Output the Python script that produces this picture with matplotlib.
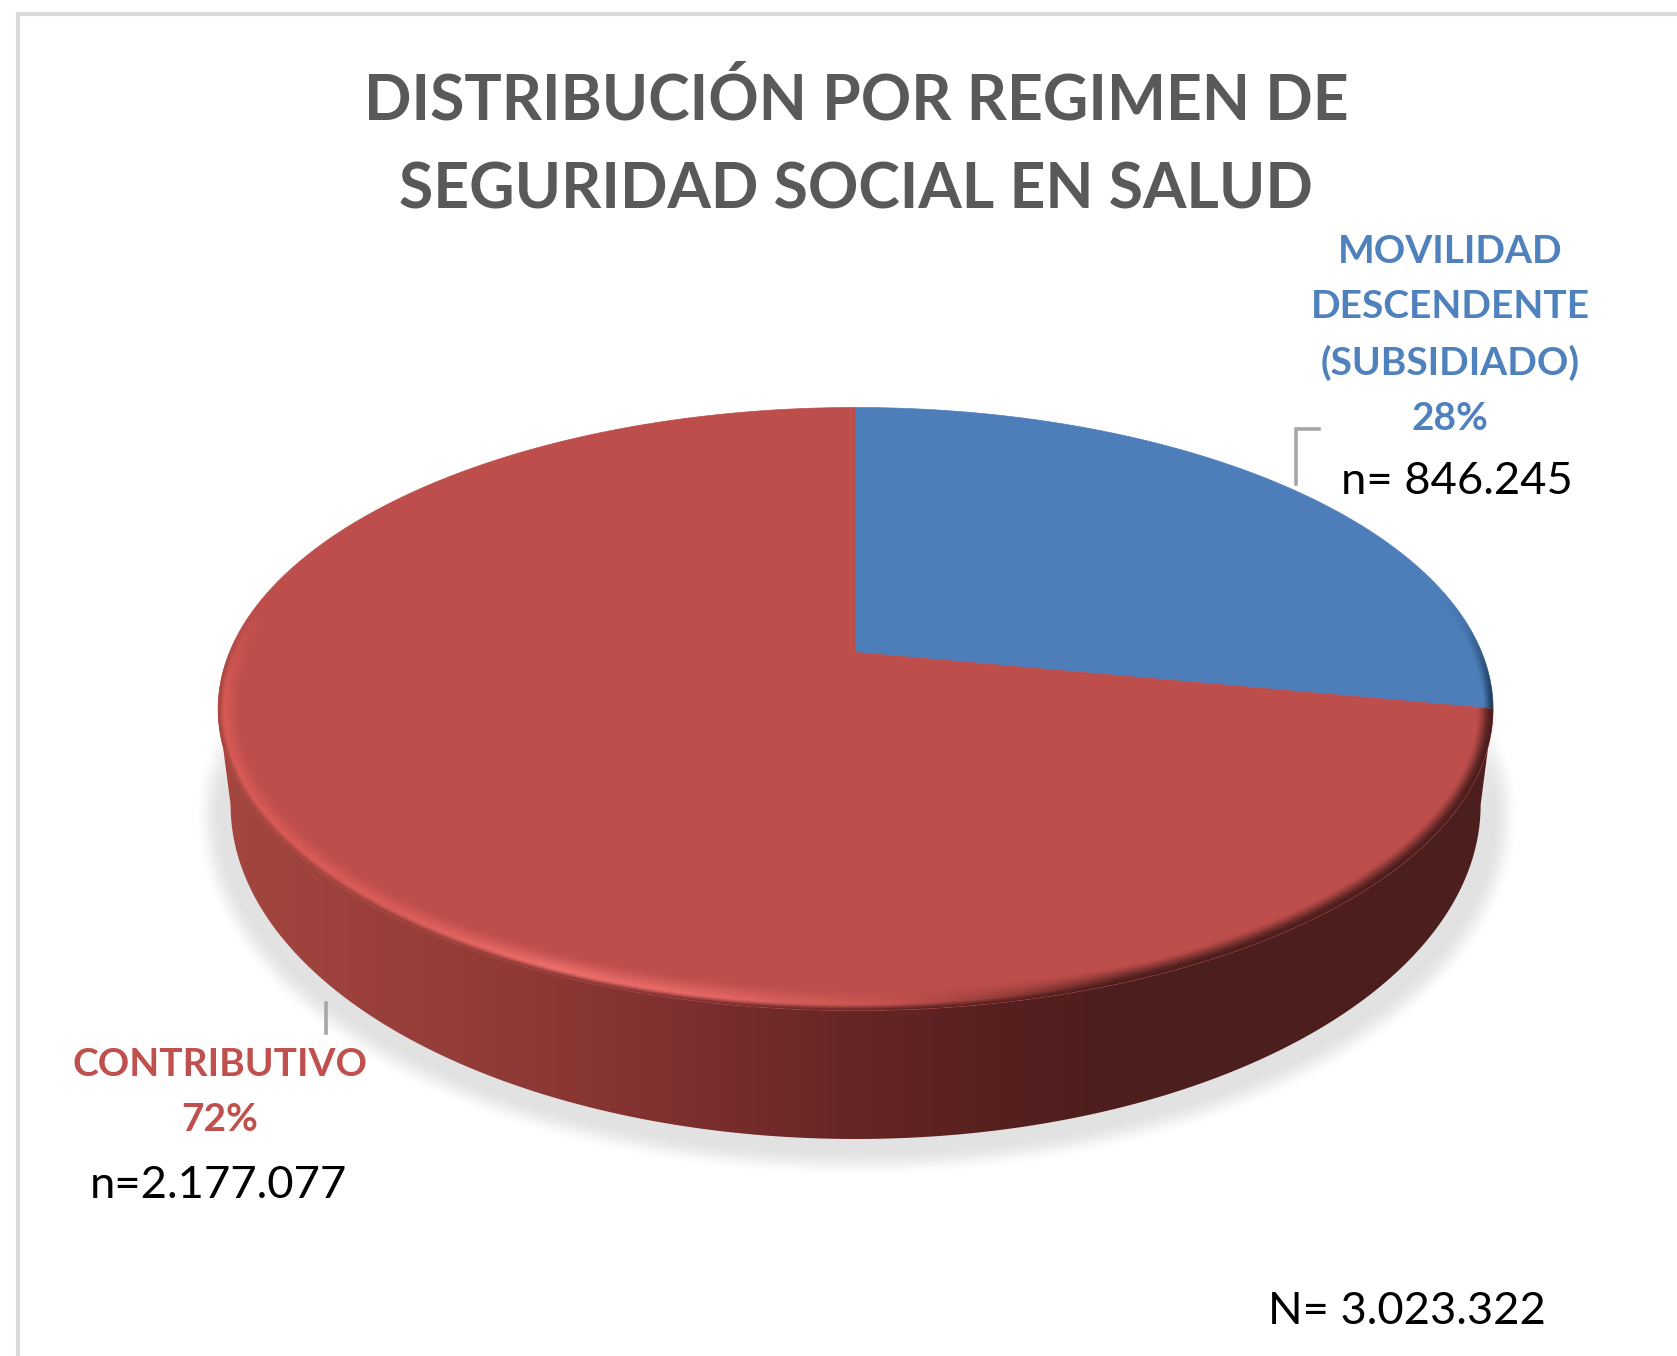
import numpy as np
import matplotlib
matplotlib.use("Agg")
import matplotlib.pyplot as plt
from matplotlib.colors import to_rgb
from matplotlib.patches import Polygon

plt.rcParams['font.family'] = ['Lato', 'DejaVu Sans']

# data
labels = ['MOVILIDAD\nDESCENDENTE\n(SUBSIDIADO)\n28%', 'CONTRIBUTIVO\n72%']
values = [846245, 2177077]
counts = ['n= 846.245', 'n=2.177.077']
total_label = 'N= 3.023.322'
title = 'DISTRIBUCIÓN POR REGIMEN DE\nSEGURIDAD SOCIAL EN SALUD'

BLUE = '#4d7eba'
RED = '#bd4e4b'

fig = plt.figure(figsize=(16.77, 13.56), dpi=100)
ax = fig.add_axes([0, 0, 1, 1])

# pie geometry (pixels of the picture)
cx, cy, a, b = 855.6, 709.0, 637.5, 301.5
apex_y = 652.4
up, down = apex_y - (cy - b), (cy + b) - apex_y
k = (down - up) / (down + up)
h = up * (1 + k)
w = a * np.sqrt(1 - k ** 2)
low_cy, low_a, low_b = 805.0, 625.0, 334.0


def project(theta):
    # circle seen in perspective, theta clockwise from the top
    X, Y = np.sin(theta), np.cos(theta)
    return cx + w * X / (1 + k * Y), apex_y - h * Y / (1 + k * Y)


def wedge(start, end):
    t = np.linspace(start, end, 400)
    x, y = project(t)
    return np.column_stack([np.r_[cx, x], np.r_[apex_y, y]])


def smooth(v, lo, hi):
    t = np.clip((v - lo) / (hi - lo), 0, 1)
    return t * t * (3 - 2 * t)


def interp_colors(x, xs, cols):
    rgb = np.array([to_rgb(c) for c in cols])
    return np.dstack([np.interp(x, xs, rgb[:, i]) for i in range(3)])


def edge_dist(px, py, ex, ey, ea, eb):
    # rough distance in pixels to an ellipse, positive inside
    rr = np.sqrt(((px - ex) / ea) ** 2 + ((py - ey) / eb) ** 2)
    gg = np.sqrt(((px - ex) / ea ** 2) ** 2 + ((py - ey) / eb ** 2) ** 2) / np.maximum(rr, 1e-3)
    return (1 - rr) / np.maximum(gg, 1e-6)


def show(img, x0, x1, y0, y1, clip=None, zorder=1):
    im = ax.imshow(img, extent=[x0, x1, y1, y0], aspect='auto', zorder=zorder,
                   interpolation='bilinear')
    if clip is not None:
        patch = Polygon(clip, closed=True, transform=ax.transData, fc='none', ec='none')
        ax.add_patch(patch)
        im.set_clip_path(patch)
    return im


xx, yy = np.meshgrid(np.arange(150, 1560) + 0.5, np.arange(380, 1200) + 0.5)
ext = (150, 1560, 380, 1200)

# soft shadow
sd = -edge_dist(xx, yy, 857, 815, 640, 340)
shadow = np.zeros(xx.shape + (4,))
shadow[..., 3] = 0.115 * (1 - smooth(sd, -4, 23)) * smooth(yy, 680, 800)
show(shadow, *ext, zorder=1)

# side of the disc
tt = np.linspace(0, np.pi, 400)
top_low = np.column_stack([cx + a * np.cos(tt), cy + b * np.sin(tt)])
low_low = np.column_stack([cx + low_a * np.cos(tt), low_cy + low_b * np.sin(tt)])
side = np.vstack([top_low, low_low[::-1]])
side_xs = [218, 350, 520, 700, 850, 1000, 1120, 1500]
side_cols = ['#a4463f', '#9c413c', '#8f3a36', '#7c2e2e', '#662625', '#56201f', '#4c1e1d', '#4c1e1d']
side_rgb = interp_colors(xx, side_xs, side_cols)
show(side_rgb, *ext, clip=side, zorder=2)

# top slices, clockwise from 12 o'clock
fracs = np.array(values) / np.sum(values)
angles = np.r_[0, np.cumsum(fracs)] * 2 * np.pi
blue_poly = wedge(angles[0], angles[1])
red_poly = wedge(angles[1], angles[2])
ax.add_patch(Polygon(blue_poly, closed=True, fc=BLUE, ec=BLUE, lw=0.5, zorder=3))
ax.add_patch(Polygon(red_poly, closed=True, fc=RED, ec=RED, lw=0.5, zorder=3))

# bevel along the rim
d = edge_dist(xx, yy, cx, cy, a, b)
rim_xs = [218, 400, 560, 720, 880, 1020, 1130, 1500]
rim_cols = ['#dc5c58', '#e0605c', '#f67472', '#e96b67', '#c85551', '#8a3835', '#4c1e1d', '#4c1e1d']
rim_rgb = interp_colors(xx, rim_xs, rim_cols)
mix = smooth(d, 0, 7)[..., None]
band = np.interp(xx, [218, 700, 1000, 1150], [24, 26, 22, 17])
rim = np.zeros(xx.shape + (4,))
rim[..., :3] = side_rgb * (1 - mix) + rim_rgb * mix
rim[..., 3] = (1 - smooth(d, 1, band)) * smooth(yy, 590, 720)
show(rim, *ext, clip=red_poly, zorder=4)

rim_b = np.zeros(xx.shape + (4,))
rim_b[..., :3] = to_rgb('#1f3a5a')
rim_b[..., 3] = (1 - smooth(d, 0, 11)) * smooth(yy, 590, 712)
show(rim_b, *ext, clip=blue_poly, zorder=4)

# frame
ax.plot([18, 18, 1677], [1356, 14, 14], color='#d9d9d9', lw=3.0, solid_joinstyle='miter', zorder=0)

# leader lines
ax.plot([1319, 1296, 1296], [429, 429, 484], color='#a6a6a6', lw=2.6, solid_joinstyle='miter', zorder=5)
ax.plot([326, 326], [1003, 1033], color='#a6a6a6', lw=2.6, zorder=5)

# texts
ax.text(856, 145, title, ha='center', va='center', fontsize=45, fontweight='bold',
        color='#595959', linespacing=1.65)
ax.text(1450, 335, labels[0], ha='center', va='center', fontsize=28, fontweight='bold',
        color='#4f81bd', linespacing=1.68)
ax.text(1457, 482, counts[0], ha='center', va='center', fontsize=32.7, color='black')
ax.text(220, 1092, labels[1], ha='center', va='center', fontsize=28, fontweight='bold',
        color='#c0504d', linespacing=1.7)
ax.text(218, 1186, counts[1], ha='center', va='center', fontsize=32.7, color='black')
ax.text(1407, 1311, total_label, ha='center', va='center', fontsize=32.7, color='black')

ax.set_xlim(0, 1677)
ax.set_ylim(1356, 0)
ax.axis('off')

fig.savefig('out.png', dpi=100, facecolor='white')
